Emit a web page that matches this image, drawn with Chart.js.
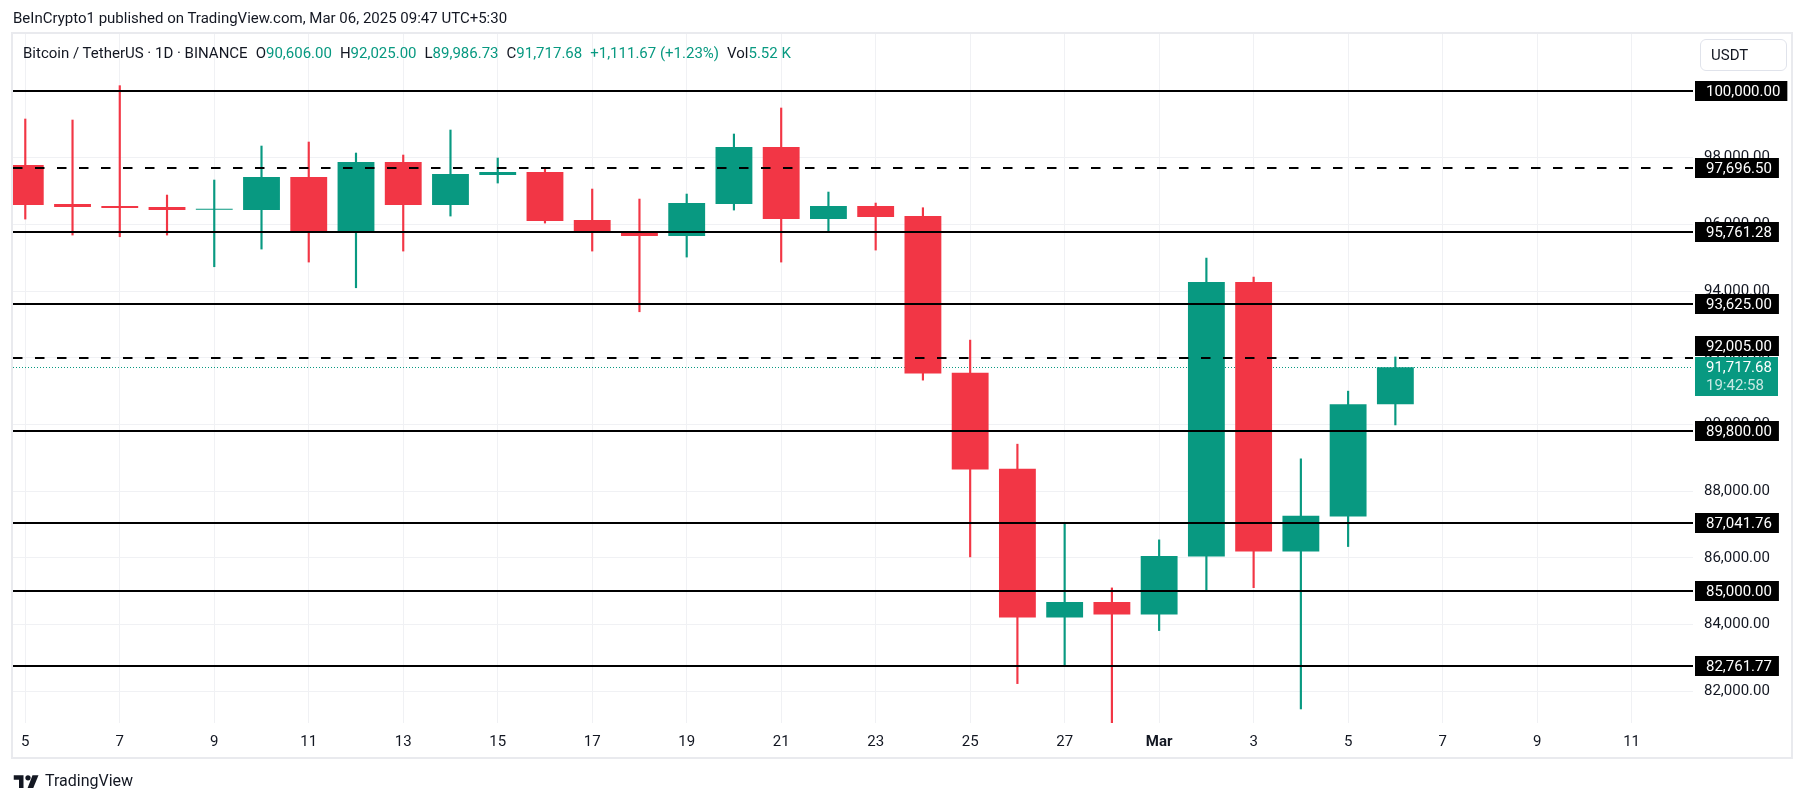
<!DOCTYPE html>
<html>
<head>
<meta charset="utf-8">
<script src="https://cdn.jsdelivr.net/npm/chart.js@4.4.1/dist/chart.umd.min.js"></script>
<style>
  html, body { margin: 0; padding: 0; background: #fff; }
  #wrap { position: relative; width: 1804px; height: 803px; overflow: hidden; font-family: Roboto, "Liberation Sans", sans-serif; color: #131722; }
  #c { position: absolute; left: 0; top: 0; }
  .t { position: absolute; white-space: nowrap; }
  #pub { left: 13px; top: 8px; font-size: 15px; line-height: 20px; }
  #leg { left: 23px; top: 44px; font-size: 15px; line-height: 19px; }
  #leg .v { color: #089981; }
  #leg .g { margin-left: 8px; }
  #usdt { position: absolute; left: 1700px; top: 39px; width: 85px; height: 30px; border: 1px solid #e0e3eb; border-radius: 6px; font-size: 15px; line-height: 30px; box-sizing: content-box; }
  #usdt span { margin-left: 10px; }
  #tv { left: 13px; top: 771px; font-size: 16px; line-height: 20px; display: flex; align-items: center; }
  #tv svg { margin-right: 5px; }
</style>
</head>
<body>
<div id="wrap">
  <canvas id="c" width="1804" height="803"></canvas>
  <div class="t" id="pub">BeInCrypto1 published on TradingView.com, Mar 06, 2025 09:47 UTC+5:30</div>
  <div class="t" id="leg">Bitcoin / TetherUS · 1D · BINANCE<span class="g">O<span class="v">90,606.00</span></span><span class="g">H<span class="v">92,025.00</span></span><span class="g">L<span class="v">89,986.73</span></span><span class="g">C<span class="v">91,717.68</span></span><span class="g v">+1,111.67 (+1.23%)</span><span class="g">Vol<span class="v">5.52 K</span></span></div>
  <div id="usdt"><span>USDT</span></div>
  <div class="t" id="tv"><svg width="27" height="13" viewBox="0 0 36 17"><path d="M14 17H8V6H1V0h13z" fill="#131722"/><circle cx="20" cy="3.5" r="3.5" fill="#131722"/><path d="M27 17h-7.5L26 0h8z" fill="#131722"/></svg>TradingView</div>
</div>
<script>
  // daily candles, Feb 5 .. Mar 6 2025 (index = days since Feb 5)
  const days = ['Feb 5','Feb 6','Feb 7','Feb 8','Feb 9','Feb 10','Feb 11','Feb 12','Feb 13','Feb 14',
    'Feb 15','Feb 16','Feb 17','Feb 18','Feb 19','Feb 20','Feb 21','Feb 22','Feb 23','Feb 24',
    'Feb 25','Feb 26','Feb 27','Feb 28','Mar 1','Mar 2','Mar 3','Mar 4','Mar 5','Mar 6'];
  const opens  = [97780, 96610, 96550, 96520, 96440, 96430, 97420, 95800, 97870, 96580,
    97480, 97570, 96130, 95740, 95650, 96610, 98320, 96160, 96550, 96250,
    91550, 88670, 84210, 84680, 84300, 86040, 94270, 86190, 87240, 90606];
  const highs  = [99160, 99130, 100160, 96880, 97330, 98350, 98470, 98140, 98080, 98830,
    97990, 97660, 97060, 96760, 96910, 98710, 99490, 96970, 96640, 96500,
    92530, 89410, 87020, 85100, 86540, 94990, 94420, 88970, 91000, 92025];
  const lows   = [96160, 95680, 95630, 95680, 94730, 95260, 94870, 94100, 95200, 96250,
    97240, 96040, 95200, 93380, 95020, 96430, 94870, 95800, 95230, 91330,
    86030, 82230, 82770, 78300, 83820, 85040, 85110, 81470, 86340, 89986.73];
  const closes = [96580, 96520, 96490, 96430, 96470, 97420, 95800, 97870, 96580, 97510,
    97570, 96100, 95800, 95650, 96640, 98320, 96160, 96550, 96220, 91530,
    88650, 84210, 84680, 84300, 86060, 94270, 86190, 87260, 90606, 91717.68];

  // drawn horizontal levels
  const levels = [100000, 97696.50, 95761.28, 93625, 92005, 89800, 87041.76, 85000, 82761.77];
  const levelDashed = [false, true, false, false, true, false, false, false, false];
  const lastPrice = 91717.68;
  const countdown = '19:42:58';

  // axes
  const xTickDays = [0, 2, 4, 6, 8, 10, 12, 14, 16, 18, 20, 22, 24, 26, 28, 30, 32, 34];
  const xTickLabels = ['5', '7', '9', '11', '13', '15', '17', '19', '21', '23', '25', '27', 'Mar', '3', '5', '7', '9', '11'];
  const yTicks = [82000, 84000, 86000, 88000, 90000, 92000, 94000, 96000, 98000, 100000];

  const UP = '#089981', DOWN = '#F23645';
  const fmt = v => v.toLocaleString('en-US', { minimumFractionDigits: 2, maximumFractionDigits: 2 });
  const candleColor = days.map((d, i) => closes[i] >= opens[i] ? UP : DOWN);

  const levelsPlugin = {
    id: 'levels',
    beforeDatasetsDraw(chart) {
      const { ctx, chartArea: a, scales: { y } } = chart;
      const py = Math.round(y.getPixelForValue(lastPrice)) + 0.5;
      ctx.save();
      ctx.strokeStyle = UP;
      ctx.lineWidth = 1;
      ctx.setLineDash([1, 2]);
      ctx.beginPath();
      ctx.moveTo(a.left, py);
      ctx.lineTo(a.right, py);
      ctx.stroke();
      ctx.restore();
    },
    afterDatasetsDraw(chart) {
      const { ctx, chartArea: a, scales: { y } } = chart;
      ctx.save();
      ctx.beginPath();
      ctx.rect(a.left, a.top, a.right - a.left, a.bottom - a.top);
      ctx.clip();
      ctx.strokeStyle = '#000';
      ctx.lineWidth = 2;
      levels.forEach((v, i) => {
        ctx.setLineDash(levelDashed[i] ? [9.5, 12.5] : []);
        const py = Math.round(y.getPixelForValue(v));
        ctx.beginPath();
        ctx.moveTo(a.left, py);
        ctx.lineTo(a.right, py);
        ctx.stroke();
      });
      ctx.restore();

      // price scale labels
      ctx.save();
      ctx.font = '15px Roboto';
      ctx.textBaseline = 'middle';
      const bx = a.right + 2;
      const pTop = Math.round(y.getPixelForValue(lastPrice)) - 10;
      const pH = 39;
      ctx.fillStyle = UP;
      ctx.fillRect(bx, pTop, 83, pH);
      ctx.fillStyle = '#fff';
      ctx.fillText(fmt(lastPrice), bx + 11, pTop + 11);
      ctx.fillStyle = 'rgba(255,255,255,0.78)';
      ctx.fillText(countdown, bx + 11, pTop + 29);

      levels.forEach(v => {
        let cy = Math.round(y.getPixelForValue(v));
        if (cy + 10 > pTop && cy - 10 < pTop + pH) cy = pTop - 11;
        const txt = fmt(v);
        const w = ctx.measureText(txt).width;
        ctx.fillStyle = '#000';
        ctx.fillRect(bx, cy - 10, w + 18, 20);
        ctx.fillStyle = '#fff';
        ctx.fillText(txt, bx + 11, cy + 1);
      });
      ctx.restore();
    }
  };

  const framePlugin = {
    id: 'frame',
    afterDraw(chart) {
      const ctx = chart.ctx;
      ctx.save();
      ctx.strokeStyle = '#e9eaee';
      ctx.lineWidth = 2;
      ctx.strokeRect(12, 33, 1780, 725);
      ctx.restore();
    }
  };

  new Chart(document.getElementById('c'), {
    type: 'bar',
    data: {
      datasets: [
        {
          label: 'wick',
          data: days.map((d, i) => ({ x: i, y: [lows[i], highs[i]] })),
          backgroundColor: candleColor,
          barThickness: 1.5,
          grouped: false,
          borderWidth: 0,
          order: 2
        },
        {
          label: 'body',
          data: days.map((d, i) => ({ x: i, y: [opens[i], closes[i]] })),
          backgroundColor: candleColor,
          barPercentage: 0.78,
          categoryPercentage: 1,
          grouped: false,
          borderWidth: 0,
          order: 1
        }
      ]
    },
    options: {
      responsive: false,
      animation: false,
      devicePixelRatio: 1,
      layout: { padding: { left: 13, top: 33, right: 12, bottom: 45 } },
      plugins: { legend: { display: false }, tooltip: { enabled: false } },
      scales: {
        x: {
          type: 'linear',
          offset: false,
          min: -0.26,
          max: 35.3,
          afterBuildTicks: s => { s.ticks = xTickDays.map(v => ({ value: v })); },
          afterFit: s => { s.height = 35; },
          grid: { color: '#f0f1f4', drawTicks: false, offset: false },
          border: { display: false },
          ticks: {
            padding: 10,
            color: '#131722',
            maxRotation: 0,
            autoSkip: false,
            font: c => ({ family: 'Roboto', size: 15, weight: xTickLabels[c.index] === 'Mar' ? 'bold' : 'normal' }),
            callback: (v, i) => xTickLabels[i]
          }
        },
        y: {
          position: 'right',
          min: 81049,
          max: 101739,
          afterBuildTicks: s => { s.ticks = yTicks.map(v => ({ value: v })); },
          afterFit: s => { s.width = 99; },
          grid: { color: '#f0f1f4', drawTicks: false },
          border: { display: false },
          ticks: {
            padding: 11,
            color: '#131722',
            font: { family: 'Roboto', size: 15 },
            callback: v => fmt(v)
          }
        }
      }
    },
    plugins: [levelsPlugin, framePlugin]
  });
</script>
</body>
</html>
